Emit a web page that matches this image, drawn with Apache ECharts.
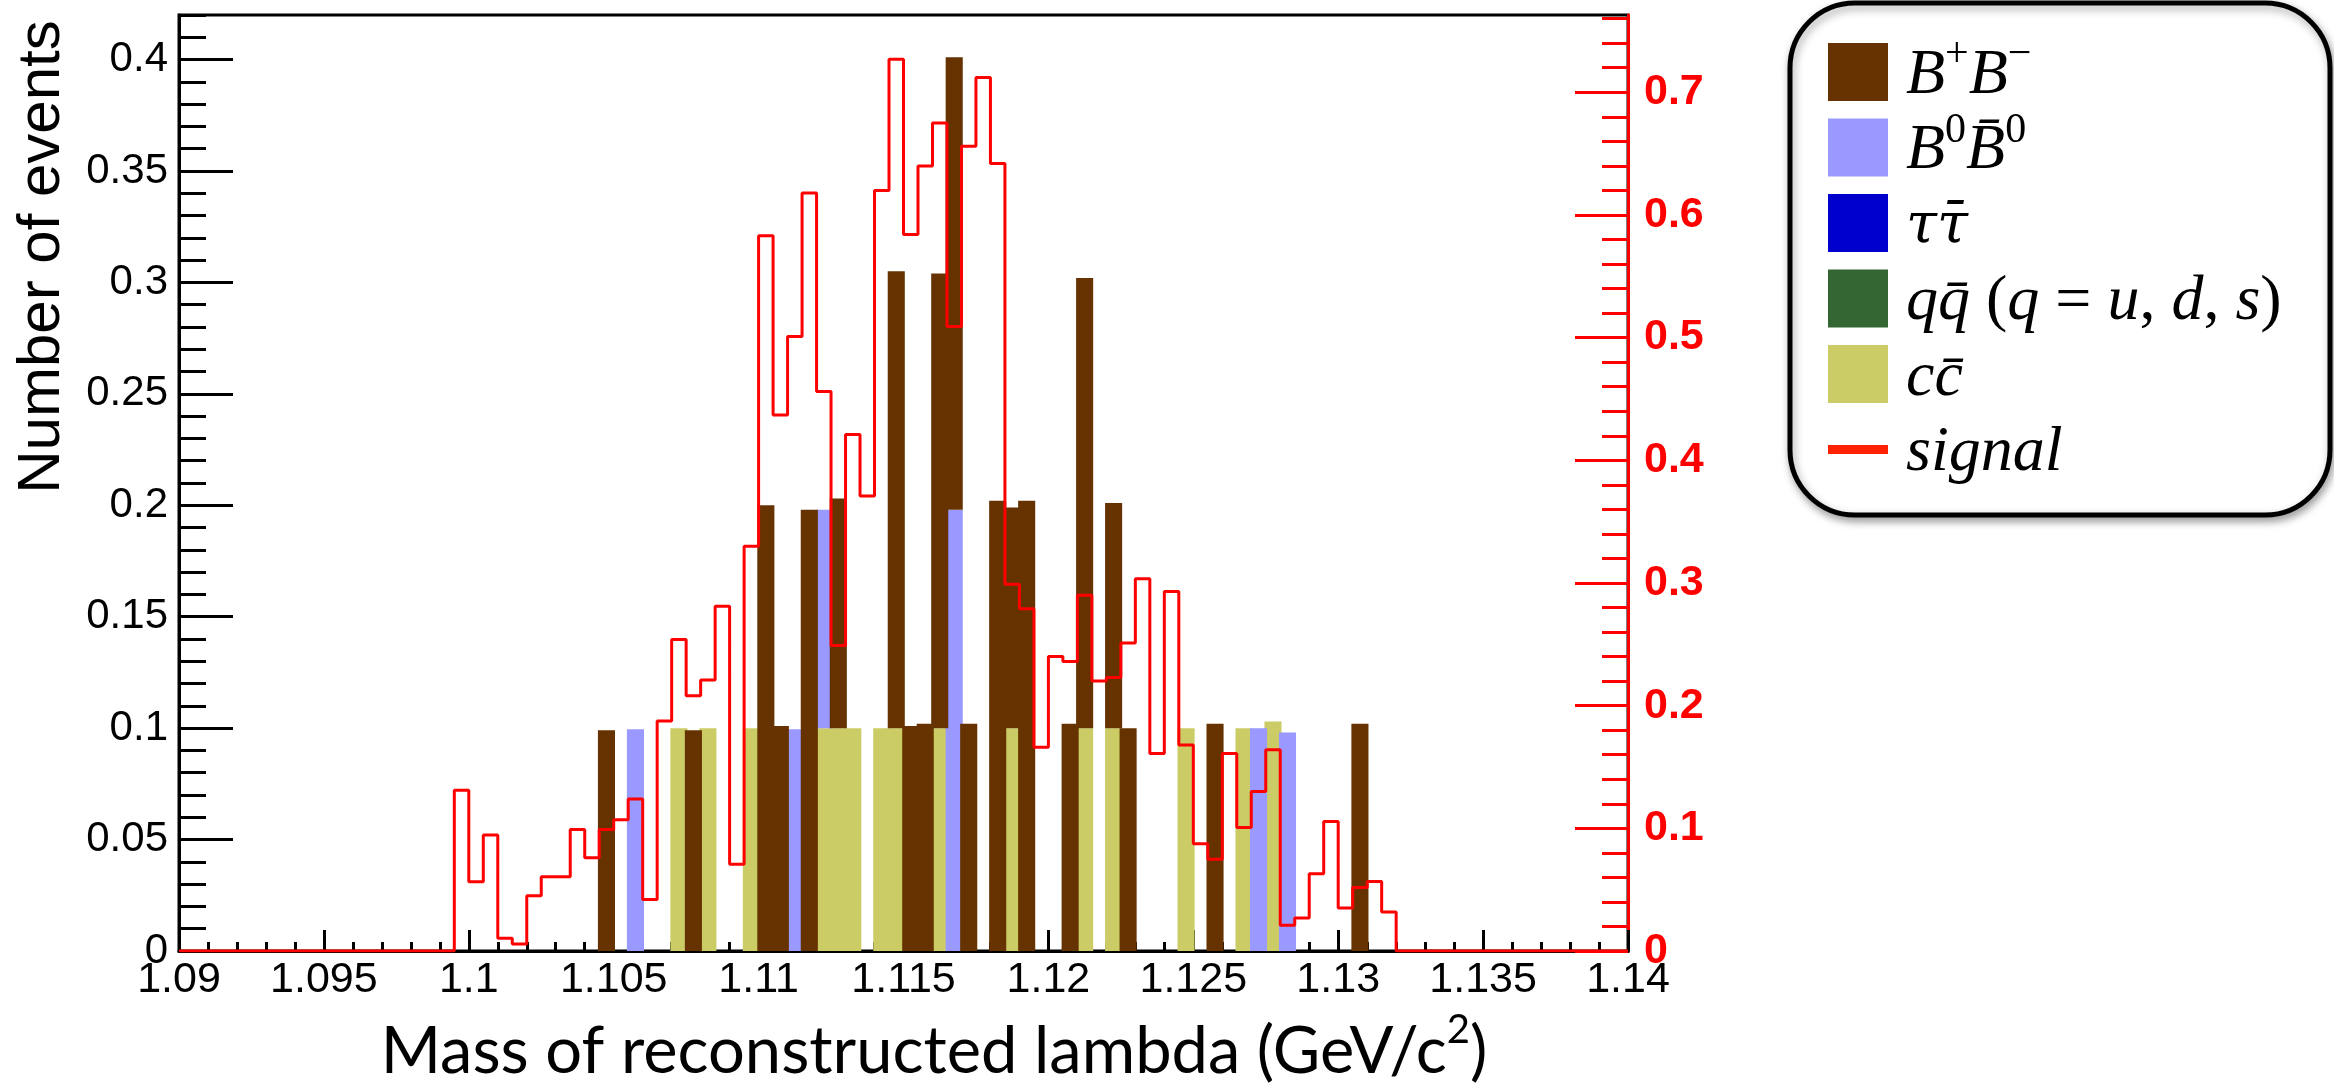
<!DOCTYPE html>
<html>
<head>
<meta charset="utf-8">
<script src="https://cdn.jsdelivr.net/npm/echarts@6/dist/echarts.min.js"></script>
<style>
  html, body { margin: 0; padding: 0; background: #fff; }
  #chart { width: 2334px; height: 1084px; }
</style>
</head>
<body>
<div id="chart"></div>
<script>
// binning (GeV/c^2)
const massMin = 1.09
const massMax = 1.14
const binWidth = 0.0005

// tick labels
const xTicks = [1.09, 1.095, 1.1, 1.105, 1.11, 1.115, 1.12, 1.125, 1.13, 1.135, 1.14]
const leftTicks = [0, 0.05, 0.1, 0.15, 0.2, 0.25, 0.3, 0.35, 0.4]
const rightTicks = [0, 0.1, 0.2, 0.3, 0.4, 0.5, 0.6, 0.7]

// backgrounds, [lower bin edge, events]
const chargedB = [
  [1.1045, 0.099], [1.1075, 0.099], [1.11, 0.2], [1.1105, 0.101], [1.1115, 0.198],
  [1.1125, 0.103], [1.1145, 0.205], [1.115, 0.101], [1.1155, 0.102], [1.116, 0.204],
  [1.1165, 0.203], [1.117, 0.102], [1.118, 0.202], [1.1185, 0.099], [1.119, 0.202],
  [1.1205, 0.102], [1.121, 0.202], [1.122, 0.101], [1.1225, 0.1], [1.1255, 0.102],
  [1.1305, 0.102]
]
const neutralB = [
  [1.1055, 0.0995], [1.111, 0.0995], [1.112, 0.098], [1.1165, 0.198], [1.127, 0.1], [1.128, 0.098]
]
const tauPairs = []
const lightQuarks = []
const charmPairs = [
  [1.107, 0.1], [1.108, 0.1], [1.1095, 0.1], [1.112, 0.1], [1.1125, 0.1], [1.113, 0.1],
  [1.114, 0.1], [1.1145, 0.1], [1.116, 0.1], [1.1185, 0.1], [1.121, 0.1], [1.122, 0.1],
  [1.1245, 0.1], [1.1265, 0.1], [1.1275, 0.103]
]

// signal, one value per bin from 1.09 to 1.14 (right axis)
const signalValues = [
  0, 0, 0, 0, 0, 0, 0, 0, 0, 0,
  0, 0, 0, 0, 0, 0, 0, 0, 0, 0.131,
  0.0565, 0.0946, 0.0103, 0.0057, 0.045, 0.0606, 0.0606, 0.099, 0.076, 0.099,
  0.107, 0.124, 0.042, 0.1875, 0.254, 0.208, 0.221, 0.281, 0.0707, 0.33,
  0.583, 0.437, 0.501, 0.618, 0.456, 0.249, 0.421, 0.371, 0.62, 0.727,
  0.584, 0.64, 0.675, 0.509, 0.656, 0.712, 0.642, 0.299, 0.279, 0.166,
  0.24, 0.236, 0.29, 0.22, 0.223, 0.251, 0.3035, 0.161, 0.293, 0.168,
  0.0875, 0.0747, 0.161, 0.1006, 0.13, 0.164, 0.021, 0.027, 0.063, 0.1055,
  0.035, 0.0517, 0.0566, 0.0318, 0, 0, 0, 0, 0, 0,
  0, 0, 0, 0, 0, 0, 0, 0, 0, 0
]

// minor tick positions between the labelled ones
function minorTicks (from, to, step, every) {
  let out = []
  for (let k = 0; from + k * step <= to + 1e-9; k++) {
    if (k % every !== 0) out.push(Math.round((from + k * step) * 1e6) / 1e6)
  }
  return out
}
const xMinor = minorTicks(massMin, massMax, 0.001, 5)
const leftMinor = minorTicks(0, 0.42, 0.01, 5)
const rightMinor = minorTicks(0, 0.763, 0.02, 5)

const components = [
  { name: 'cc', bins: charmPairs, color: '#cccc66' },
  { name: 'qq', bins: lightQuarks, color: '#336633' },
  { name: 'tautau', bins: tauPairs, color: '#0000cc' },
  { name: 'B0B0bar', bins: neutralB, color: '#9999ff' },
  { name: 'B+B-', bins: chargedB, color: '#663300' }
]

function renderBin (params, api) {
  let p0 = api.coord([api.value(0), api.value(2)])
  let p1 = api.coord([api.value(1), api.value(3)])
  // ROOT paints the fill a touch wider than the bin
  return {
    type: 'rect',
    shape: { x: p0[0] - 1.3, y: p1[1], width: p1[0] - p0[0] + 2.6, height: p0[1] - p1[1] },
    style: { fill: api.visual('color') }
  }
}

// stack bin by bin, cc at the bottom
let stackTop = {}
let barSeries = components.map(c => ({
  type: 'custom',
  name: c.name,
  renderItem: renderBin,
  itemStyle: { color: c.color },
  encode: { x: [0, 1], y: [2, 3] },
  z: 2,
  data: c.bins.map(([lo, v]) => {
    let key = lo.toFixed(4)
    let base = stackTop[key] || 0
    stackTop[key] = base + v
    return [lo, lo + binWidth, base, base + v]
  })
}))

let signalPoints = signalValues.map((v, i) => [(10900 + 5 * i) / 10000, v])
signalPoints.push([massMax, signalValues[signalValues.length - 1]])

const legendItems = [
  { label: '{m|B}{s|+}{m|B}{s|\u2212}', color: '#663300' },
  { label: '{m|B}{s|0}{m|B\u0304}{s|0}', color: '#9999ff' },
  { label: '{g|\u03c4\u03c4\u0304}', color: '#0000cc' },
  { label: '{m|qq\u0304 }{r|(}{m|q}{r| = }{m|u}{r|, }{m|d}{r|, }{m|s}{r|)}', color: '#336633' },
  { label: '{m|cc\u0304}', color: '#cccc66' },
  { label: '{m|signal}', color: '#ff2200', line: true }
]

const mathRich = {
  m: { fontFamily: 'Liberation Serif', fontStyle: 'italic', fontSize: 64, lineHeight: 84, fill: '#000' },
  g: { fontFamily: 'DejaVu Serif', fontStyle: 'italic', fontSize: 56, lineHeight: 84, fill: '#000' },
  r: { fontFamily: 'Liberation Serif', fontSize: 64, lineHeight: 84, fill: '#000' },
  s: { fontFamily: 'Liberation Serif', fontSize: 42, lineHeight: 42, verticalAlign: 'top', fill: '#000' }
}

let legendChildren = [{
  type: 'rect',
  shape: { x: 1790, y: 3, width: 540, height: 512, r: 65 },
  style: {
    fill: '#fff', stroke: '#000', lineWidth: 5,
    shadowBlur: 8, shadowColor: 'rgba(0,0,0,0.35)', shadowOffsetX: 2, shadowOffsetY: 4
  }
}]
legendItems.forEach((item, i) => {
  let cy = 72 + i * 75.5
  legendChildren.push({
    type: 'rect',
    shape: item.line
      ? { x: 1828, y: cy - 4.5, width: 60, height: 9 }
      : { x: 1828, y: cy - 29, width: 60, height: 58 },
    style: { fill: item.color }
  })
  legendChildren.push({
    type: 'text',
    x: 1906,
    y: cy + 4,
    style: {
      text: item.label, rich: mathRich,
      align: 'left', verticalAlign: 'middle',
      textAlign: 'left', textVerticalAlign: 'middle'
    }
  })
})

let chart = echarts.init(document.getElementById('chart'))
chart.setOption({
  animation: false,
  backgroundColor: '#fff',
  grid: {
    left: 179, right: 706, top: 15, bottom: 133,
    show: true, borderColor: '#000', borderWidth: 3
  },
  xAxis: [{
    type: 'value', min: massMin, max: massMax, position: 'bottom',
    axisLine: { onZero: false, lineStyle: { color: '#000', width: 3 } },
    axisTick: { inside: true, length: 21, customValues: xTicks, lineStyle: { color: '#000', width: 3 } },
    axisLabel: {
      customValues: xTicks, formatter: v => String(v),
      fontFamily: 'Liberation Sans', fontSize: 43, color: '#000', margin: 8
    },
    splitLine: { show: false }
  }, {
    type: 'value', min: massMin, max: massMax, position: 'bottom',
    axisLine: { show: false, onZero: false },
    axisTick: { inside: true, length: 9, customValues: xMinor, lineStyle: { color: '#000', width: 3 } },
    axisLabel: { show: false },
    splitLine: { show: false }
  }],
  yAxis: [{
    type: 'value', min: 0, max: 0.42, position: 'left',
    axisLine: { show: true, onZero: false, lineStyle: { color: '#000', width: 3 } },
    axisTick: { inside: true, length: 54, customValues: leftTicks, lineStyle: { color: '#000', width: 3 } },
    axisLabel: {
      customValues: leftTicks, formatter: v => String(v),
      fontFamily: 'Liberation Sans', fontSize: 42, color: '#000', margin: 11
    },
    splitLine: { show: false }
  }, {
    type: 'value', min: 0, max: 0.42, position: 'left',
    axisLine: { show: false, onZero: false },
    axisTick: { inside: true, length: 27, customValues: leftMinor, lineStyle: { color: '#000', width: 3 } },
    axisLabel: { show: false },
    splitLine: { show: false }
  }, {
    type: 'value', min: 0, max: 0.763, position: 'right',
    axisLine: { show: true, onZero: false, lineStyle: { color: '#ff0000', width: 3 } },
    axisTick: { inside: true, length: 53, customValues: rightTicks, lineStyle: { color: '#ff0000', width: 3 } },
    axisLabel: {
      customValues: rightTicks, formatter: v => String(v),
      fontFamily: 'Liberation Sans', fontWeight: 'bold', fontSize: 43, color: '#ff0000', margin: 16
    },
    splitLine: { show: false }
  }, {
    type: 'value', min: 0, max: 0.763, position: 'right',
    axisLine: { show: false, onZero: false },
    axisTick: { inside: true, length: 26, customValues: rightMinor, lineStyle: { color: '#ff0000', width: 3 } },
    axisLabel: { show: false },
    splitLine: { show: false }
  }],
  series: barSeries.concat([{
    type: 'line',
    name: 'signal',
    step: 'end',
    xAxisIndex: 0,
    yAxisIndex: 2,
    symbol: 'none',
    z: 5,
    lineStyle: { color: '#ff0000', width: 3 },
    data: signalPoints
  }]),
  graphic: [{
    type: 'text',
    x: 42,
    y: 257,
    rotation: Math.PI / 2,
    style: {
      text: 'Number of events',
      fontFamily: 'Liberation Sans', fontSize: 60, fill: '#000',
      align: 'center', verticalAlign: 'middle',
      textAlign: 'center', textVerticalAlign: 'middle'
    }
  }, {
    type: 'text',
    x: 934,
    y: 1052,
    style: {
      text: '{t|Mass of reconstructed lambda (GeV/c}{s|2}{t|)}',
      rich: {
        t: { fontFamily: 'Lato', fontSize: 65, lineHeight: 84, fill: '#000' },
        s: { fontFamily: 'Lato', fontSize: 40, lineHeight: 40, verticalAlign: 'top', fill: '#000' }
      },
      align: 'center', verticalAlign: 'middle',
      textAlign: 'center', textVerticalAlign: 'middle'
    }
  }, {
    type: 'group',
    children: legendChildren
  }]
})
</script>
</body>
</html>
